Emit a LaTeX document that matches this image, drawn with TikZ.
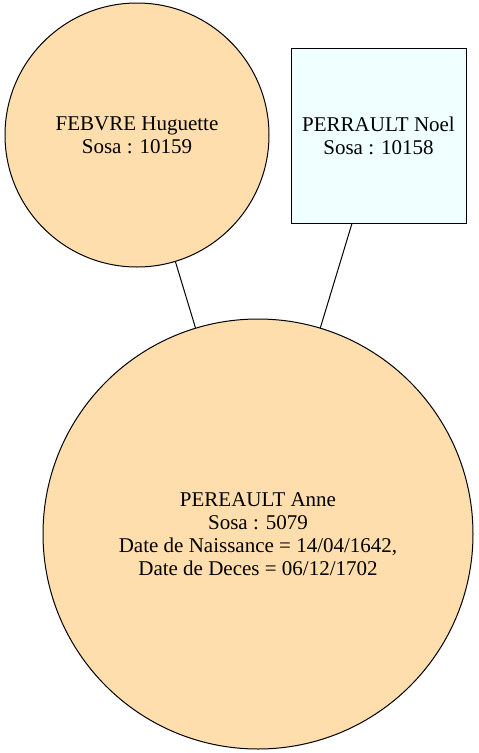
\documentclass[tikz,border=0pt]{standalone}
\usepackage{fontspec}
\setmainfont{Liberation Serif}
\definecolor{navaj}{HTML}{FFDEAD}
\definecolor{azur}{HTML}{F0FFFF}
\begin{document}
\begin{tikzpicture}[x=1pt,y=-1pt,
  person/.style={circle,draw=black,line width=1pt,fill=navaj,align=center,inner sep=0pt,font=\fontsize{21}{23}\selectfont},
  boxperson/.style={rectangle,draw=black,line width=1pt,fill=azur,align=center,inner sep=0pt,font=\fontsize{21}{23}\selectfont},
  link/.style={draw=black,line width=1pt}]
\useasboundingbox (0,0) rectangle (479,753);
\node[person,minimum size=264pt] (a) at (137,135) {FEBVRE Huguette\\Sosa : 10159};
\node[boxperson,minimum width=175pt,minimum height=175pt] (b) at (378.5,135.5) {PERRAULT Noel\\Sosa : 10158};
\node[person,minimum size=430pt] (c) at (258,534) {PEREAULT Anne\\Sosa : 5079\\Date de Naissance = 14/04/1642,\\Date de Deces = 06/12/1702};
\draw[link] (a) -- (c);
\draw[link] (b) -- (c);
\end{tikzpicture}
\end{document}
